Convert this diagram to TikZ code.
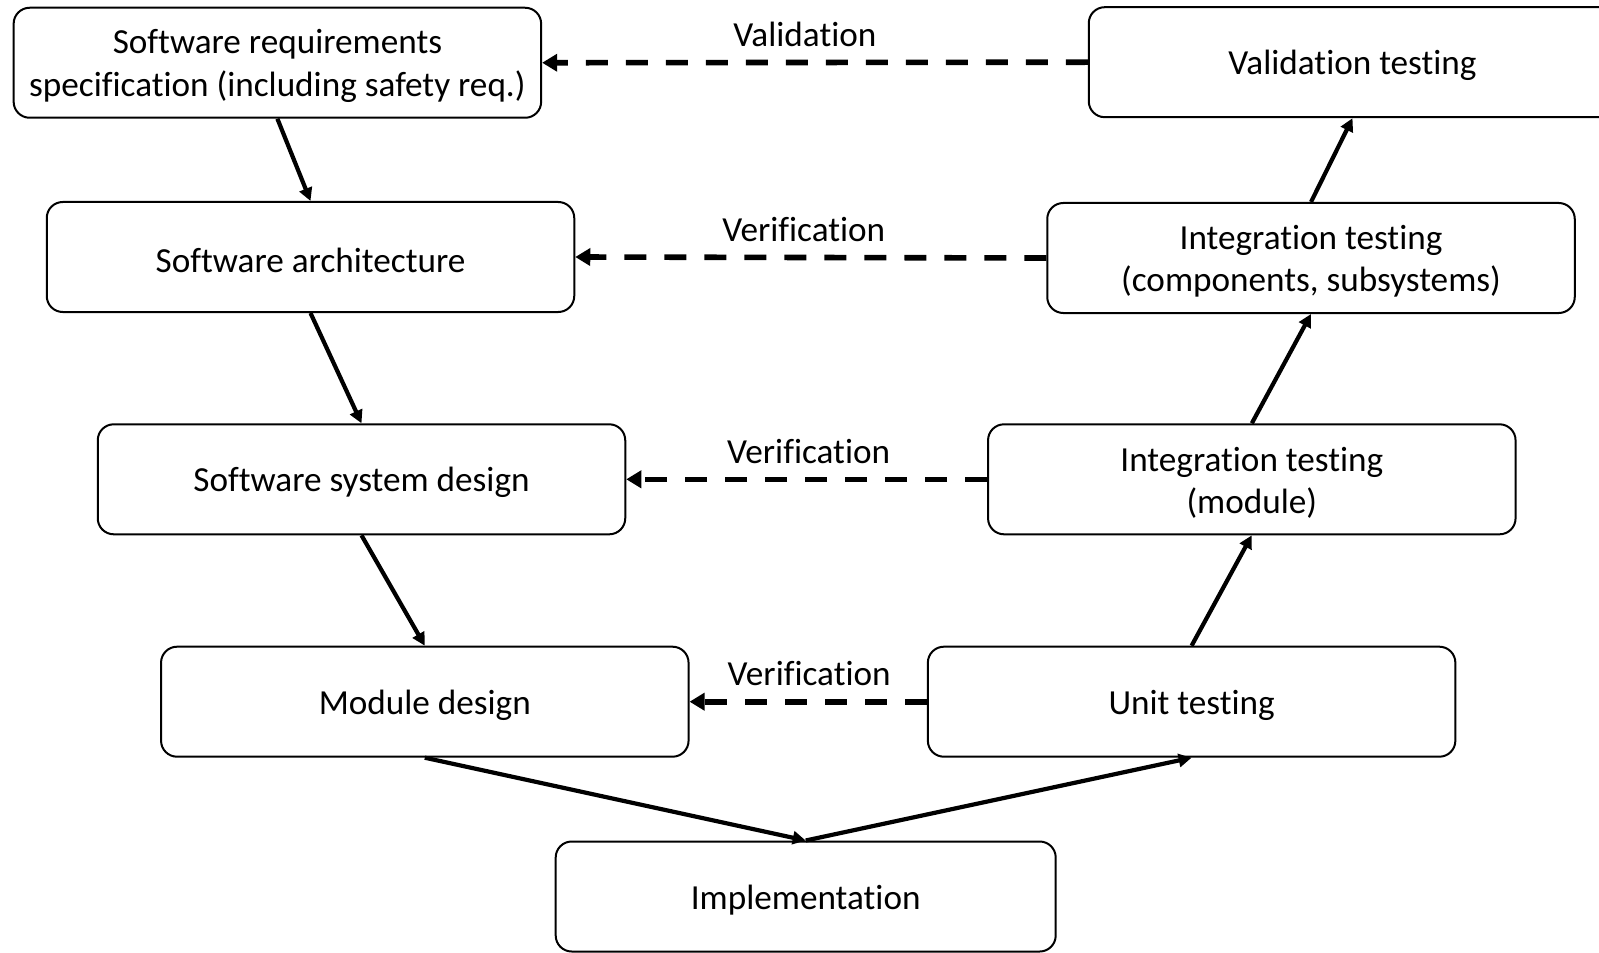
\documentclass[tikz,border=0pt]{standalone}
\usepackage{fontspec}
\setmainfont{Carlito}[RawFeature={-liga;-clig;-dlig;-calt}]
\usetikzlibrary{arrows.meta}
\begin{document}
\begin{tikzpicture}[x=0.5pt,y=-0.5pt,
  caption/.style={font=\fontsize{17.6pt}{21.3pt}\selectfont, align=center,
    inner sep=0pt, yshift=-1.7pt},
  stage/.style={draw=black, line width=1pt, rounded corners=8pt, fill=white,
    minimum width=263.75pt, minimum height=55pt, inner sep=0pt,
    label={[caption]center:{#1}}},
  flow/.style={line width=2.1pt, -{Triangle[length=6.5pt,width=6.5pt]}},
  check/.style={line width=2.8pt, dash pattern=on 11pt off 9pt,
    -{Triangle[length=7.5pt,width=8.5pt]}},
  tag/.style={font=\fontsize{17.6pt}{21.3pt}\selectfont, yshift=14pt}
]
\useasboundingbox (0,0) rectangle (1599,952);
\clip (0,0) rectangle (1599,952);

% left branch: specification and design
\node[stage={Software requirements\\specification (including safety req.)}] (srs) at (277.4,62.75) {};
\node[stage={Software architecture}]  (sa)  at (310.5,257)   {};
\node[stage={Software system design}] (ssd) at (361.5,479.3) {};
\node[stage={Module design}]          (md)  at (424.8,701.7) {};

% bottom
\node[stage={Implementation}, minimum width=250pt] (impl) at (805.7,896.5) {};

% right branch: testing
\node[stage={Unit testing}]                      (ut)  at (1191.6,701.7) {};
\node[stage={Integration testing\\(module)}]     (itm) at (1251.8,479.3) {};
\node[stage={Integration testing\\(components, subsystems)}] (itc) at (1311,258) {};
\node[stage={Validation testing}]                (vt)  at (1352.5,62.2)  {};

% development flow
\draw[flow] (srs.south) -- (sa.north);
\draw[flow] (sa.south) -- (ssd.north);
\draw[flow] (ssd.south) -- (md.north);
\draw[flow] (md.south) -- (impl.north);
\draw[flow] (impl.north) -- (ut.south);
\draw[flow] (ut.north) -- (itm.south);
\draw[flow] (itm.north) -- (itc.south);
\draw[flow] (itc.north) -- (vt.south);

% verification and validation links
\draw[check] (vt.west)  -- node[tag, xshift=-5pt]   {Validation}   (srs.east);
\draw[check] (itc.west) -- node[tag, xshift=-3.5pt] {Verification} (sa.east);
\draw[check] (itm.west) -- node[tag, xshift=1pt]    {Verification} (ssd.east);
\draw[check] (ut.west)  -- node[tag, xshift=0.5pt]  {Verification} (md.east);
\end{tikzpicture}
\end{document}
